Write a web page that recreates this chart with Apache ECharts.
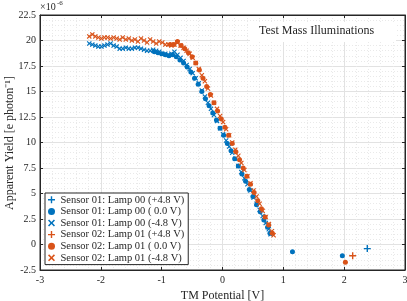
<!DOCTYPE html>
<html><head><meta charset="utf-8">
<script src="https://cdn.jsdelivr.net/npm/echarts@6/dist/echarts.min.js"></script>
<style>html,body{margin:0;padding:0;background:#fff}#c{width:407px;height:301px}</style>
</head><body><div id="c"></div>
<script>
// Sensor 01, Lamp 00 (-4.8 V) - blue crosses
const s1mX = [-2.19,-2.14,-2.09,-2.04,-1.99,-1.94,-1.89,-1.84,-1.79,-1.74,-1.69,-1.64,-1.59,-1.54,-1.49,-1.44,-1.39,-1.34,-1.29,-1.24,-1.19,-1.14,-1.09,-1.04,-0.99,-0.94,-0.89,-0.84,-0.79,-0.74,-0.69,-0.64,-0.59,-0.54,-0.49,-0.44,-0.39,-0.34,-0.29,-0.24,-0.19,-0.14,-0.09,-0.04,0.01,0.06,0.11,0.16,0.21,0.26,0.31,0.36,0.41,0.46,0.51,0.56,0.61,0.66,0.71,0.76,0.79];
const s1mY = [19.7,19.6,19.5,19.4,19.4,19.5,19.6,19.7,19.5,19.4,19.2,19.2,19.3,19.2,19.2,19.3,19.3,19.2,19.1,19.0,19.0,19.1,19.0,18.9,18.7,18.7,18.6,18.7,18.9,18.6,18.3,18.0,17.6,17.2,16.8,16.3,15.8,15.1,14.5,13.9,13.3,12.7,12.1,11.4,10.8,10.2,9.6,9.0,8.4,7.7,7.1,6.5,5.9,5.3,4.6,4.0,3.4,2.8,2.1,1.5,1.0];
// Sensor 01, Lamp 00 (0.0 V) - blue circles
const s1zX = [-1.12,-1.06,-1.00,-0.94,-0.88,-0.82,-0.76,-0.70,-0.64,-0.58,-0.52,-0.46,-0.40,-0.34,-0.28,-0.22,-0.16,-0.10,-0.04,0.02,0.08,0.14,0.20,0.26,0.32,0.38,0.44,0.50,0.56,0.62,0.68,0.74,0.78,1.15,1.97];
const s1zY = [18.9,18.8,18.7,18.6,18.5,18.6,18.4,18.1,17.8,17.4,16.9,16.3,15.7,15.0,14.3,13.6,12.9,12.2,11.4,10.7,9.9,9.2,8.4,7.7,6.9,6.2,5.4,4.7,3.9,3.2,2.4,1.7,1.1,-0.7,-1.1];
// Sensor 01, Lamp 00 (+4.8 V) - blue plus
const s1pX = [2.38];
const s1pY = [-0.4];
// Sensor 02, Lamp 01 (-4.8 V) - orange crosses
const s2mX = [-2.19,-2.14,-2.09,-2.04,-1.99,-1.94,-1.89,-1.84,-1.79,-1.74,-1.69,-1.64,-1.59,-1.54,-1.49,-1.44,-1.39,-1.34,-1.29,-1.24,-1.19,-1.14,-1.09,-1.04,-0.99,-0.94,-0.89,-0.84,-0.79,-0.74,-0.69,-0.64,-0.59,-0.54,-0.49,-0.44,-0.39,-0.34,-0.29,-0.24,-0.19,-0.14,-0.09,-0.04,0.01,0.06,0.11,0.16,0.21,0.26,0.31,0.36,0.41,0.46,0.51,0.56,0.61,0.66,0.71,0.76,0.81,0.84];
const s2mY = [20.4,20.6,20.4,20.3,20.2,20.3,20.3,20.2,20.3,20.2,20.1,20.3,20.1,20.2,20.0,20.1,19.9,20.2,20.0,19.8,20.1,19.9,19.7,19.9,19.8,19.6,19.6,19.5,19.6,19.8,19.5,19.3,19.0,18.7,18.3,17.8,17.2,16.6,16.0,15.3,14.6,13.9,13.3,12.6,12.0,11.3,10.7,10.0,9.3,8.7,8.0,7.3,6.7,6.0,5.3,4.7,4.0,3.3,2.7,2.0,1.3,0.9];
// Sensor 02, Lamp 01 (0.0 V) - orange circles
const s2zX = [-0.86,-0.80,-0.74,-0.68,-0.62,-0.56,-0.50,-0.44,-0.38,-0.32,-0.26,-0.20,-0.14,-0.08,-0.02,0.04,0.10,0.16,0.22,0.28,0.34,0.40,0.46,0.52,0.58,0.64,0.70,0.76,0.82,2.02];
const s2zY = [19.6,19.6,19.9,19.5,19.2,18.8,18.4,17.8,17.1,16.3,15.5,14.7,13.9,13.1,12.3,11.5,10.7,9.9,9.1,8.3,7.5,6.7,5.9,5.1,4.3,3.5,2.7,1.9,1.1,-1.75];
// Sensor 02, Lamp 01 (+4.8 V) - orange plus
const s2pX = [2.14];
const s2pY = [-1.1];

const seriesNames = ['Sensor 01: Lamp 00 (+4.8 V)','Sensor 01: Lamp 00 ( 0.0 V)','Sensor 01: Lamp 00 (-4.8 V)','Sensor 02: Lamp 01 (+4.8 V)','Sensor 02: Lamp 01 ( 0.0 V)','Sensor 02: Lamp 01 (-4.8 V)'];
const titleText = 'Test Mass Illuminations';
const xName = 'TM Potential [V]';
const yName = 'Apparent Yield [e photon\u207B\u00B9]';

const BLUE = '#0072BD', ORANGE = '#D95319';
const PLUS = 'path://M4,0H6V4H10V6H6V10H4V6H0V4H4Z';
const CROSS = 'path://M0,1.6L1.6,0L5,3.4L8.4,0L10,1.6L6.6,5L10,8.4L8.4,10L5,6.6L1.6,10L0,8.4L3.4,5Z';
const FONT = 'Liberation Serif';
const zip = (a, b) => a.map((v, i) => [v, b[i]]);

function mk(name, xs, ys, color, symbol, size) {
  return { name, type: 'scatter', data: zip(xs, ys), symbol, symbolSize: size,
    itemStyle: { color, opacity: 1 }, silent: true, animation: false, xAxisIndex: 0, yAxisIndex: 0 };
}

const chart = echarts.init(document.getElementById('c'), null, { renderer: 'canvas' });
const axisCommon = {
  type: 'value', axisLine: { show: true, onZero: false, lineStyle: { color: '#262626', width: 1 } },
  axisTick: { show: true, inside: true, length: 3, lineStyle: { color: '#262626' } },
  axisLabel: { color: '#262626', fontFamily: FONT, fontSize: 10 },
  splitLine: { show: true, lineStyle: { color: '#e2e2e2', width: 1 } },
  minorTick: { show: false, splitNumber: 5 },
  minorSplitLine: { show: true, lineStyle: { color: '#e9e9e9', width: 1, type: [1, 2] } }
};
chart.setOption({
  animation: false,
  backgroundColor: '#fff',
  grid: { left: 40, right: 2, top: 15, bottom: 31, containLabel: false, outerBoundsMode: 'none',
    show: true, borderColor: '#262626', borderWidth: 1, backgroundColor: 'transparent' },
  xAxis: [
    Object.assign({}, axisCommon, { min: -3, max: 3, interval: 1, position: 'bottom',
      axisLabel: Object.assign({}, axisCommon.axisLabel, { margin: 5 }),
      name: xName, nameLocation: 'middle', nameGap: 18, nameTextStyle: { fontFamily: FONT, fontSize: 12, color: '#262626' } }),
    Object.assign({}, axisCommon, { min: -3, max: 3, interval: 1, position: 'top', axisLabel: { show: false },
      splitLine: { show: false }, minorSplitLine: { show: false } })
  ],
  yAxis: [
    Object.assign({}, axisCommon, { min: -2.5, max: 22.5, interval: 2.5, position: 'left',
      axisLabel: Object.assign({}, axisCommon.axisLabel, { margin: 4 }) }),
    Object.assign({}, axisCommon, { min: -2.5, max: 22.5, interval: 2.5, position: 'right', axisLabel: { show: false },
      splitLine: { show: false }, minorSplitLine: { show: false } })
  ],
  legend: {
    orient: 'vertical', left: 45, top: 193, padding: [1, 4, 1, 3],
    backgroundColor: '#fff', borderColor: '#262626', borderWidth: 1,
    itemWidth: 8, itemHeight: 7, itemGap: 0,
    textStyle: { fontFamily: FONT, fontSize: 10.5, color: '#262626', lineHeight: 11.6 },
    data: seriesNames.map((n, i) => ({ name: n, icon: [PLUS, 'circle', CROSS][i % 3] }))
  },
  graphic: [
    { type: 'text', x: 10, y: 143, rotation: Math.PI / 2,
      style: { text: yName, font: '12px "Liberation Serif"', fill: '#262626', align: 'center', verticalAlign: 'middle' }, z: 11 },
    { type: 'rect', left: 250, top: 22, shape: { width: 146, height: 20 }, style: { fill: '#fff' }, z: 10 },
    { type: 'text', left: 259, top: 25, style: { text: titleText, font: '12px "Liberation Serif"', fill: '#262626' }, z: 11 },
    { type: 'text', left: 40, top: 2, style: { text: '\u00D710', font: '10px "Liberation Serif"', fill: '#262626' }, z: 11 },
    { type: 'text', left: 57, top: 0, style: { text: '-6', font: '7px "Liberation Serif"', fill: '#262626' }, z: 11 }
  ],
  series: [
    mk(seriesNames[0], s1pX, s1pY, BLUE, PLUS, 7),
    mk(seriesNames[1], s1zX, s1zY, BLUE, 'circle', 5),
    mk(seriesNames[2], s1mX, s1mY, BLUE, CROSS, 5),
    mk(seriesNames[3], s2pX, s2pY, ORANGE, PLUS, 7),
    mk(seriesNames[4], s2zX, s2zY, ORANGE, 'circle', 5),
    mk(seriesNames[5], s2mX, s2mY, ORANGE, CROSS, 5)
  ]
});
</script>
</body></html>
